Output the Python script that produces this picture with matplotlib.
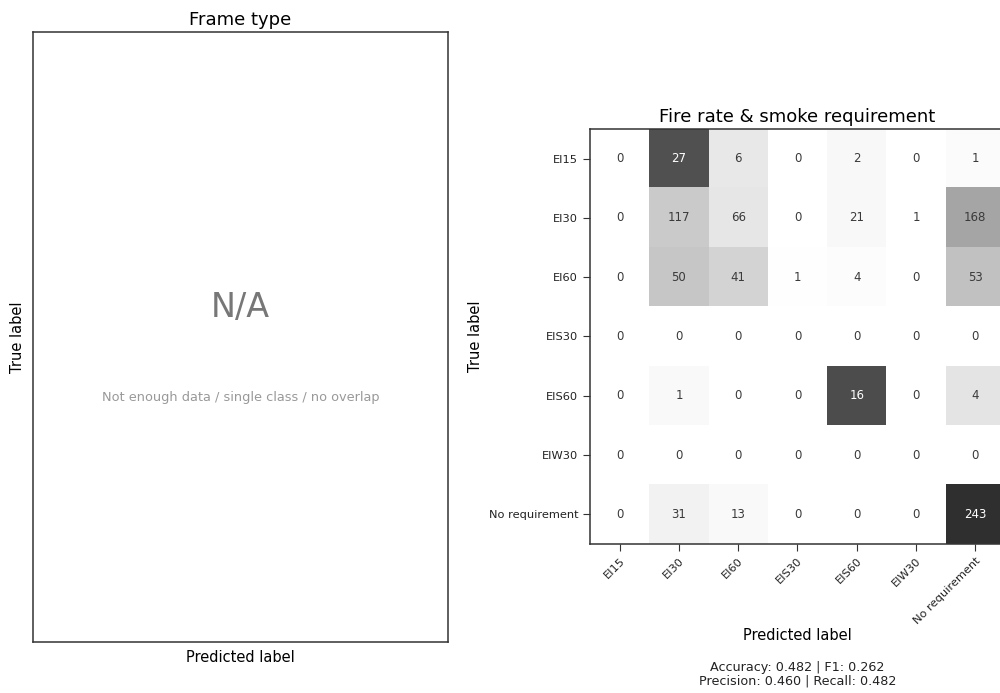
import numpy as np
import matplotlib
matplotlib.use("Agg")
import matplotlib.pyplot as plt

# class names for the fire-rate model
fire_classes = ['EI15', 'EI30', 'EI60', 'EIS30', 'EIS60', 'EIW30', 'No requirement']

# confusion matrix counts (rows = true, cols = predicted)
cm_fire = np.array([
    [0, 27, 6, 0, 2, 0, 1],
    [0, 117, 66, 0, 21, 1, 168],
    [0, 50, 41, 1, 4, 0, 53],
    [0, 0, 0, 0, 0, 0, 0],
    [0, 1, 0, 0, 16, 0, 4],
    [0, 0, 0, 0, 0, 0, 0],
    [0, 31, 13, 0, 0, 0, 243],
])

accuracy = 0.482
f1 = 0.262
precision = 0.460
recall = 0.482

fig = plt.figure(figsize=(10, 6.93), dpi=100)

# Frame type: nothing to show
ax1 = fig.add_axes([0.033, 0.074, 0.415, 0.880])
ax1.set_xticks([])
ax1.set_yticks([])
for s in ax1.spines.values():
    s.set_color('#333333')
    s.set_linewidth(1.1)
ax1.set_title('Frame type', fontsize=13, pad=5)
ax1.set_xlabel('Predicted label', fontsize=10.5, labelpad=6)
ax1.set_ylabel('True label', fontsize=10.5, labelpad=6)
ax1.text(0.5, 0.548, 'N/A', transform=ax1.transAxes, ha='center', va='center',
         fontsize=24, color='#777777')
ax1.text(0.5, 0.40, 'Not enough data / single class / no overlap', transform=ax1.transAxes,
         ha='center', va='center', fontsize=9.3, color='#999999')

# Fire rate & smoke requirement, coloured by row share
row_sums = cm_fire.sum(axis=1, keepdims=True)
cm_norm = np.divide(cm_fire, row_sums, out=np.zeros(cm_fire.shape, dtype=float), where=row_sums > 0)

ax2 = fig.add_axes([0.590, 0.215, 0.415, 0.599])
ax2.imshow(cm_norm, cmap='Greys', vmin=0, vmax=1, aspect='auto', interpolation='nearest')
n = len(fire_classes)
for i in range(n):
    for j in range(n):
        c = 'white' if cm_norm[i, j] > 0.5 else '#3a3a3a'
        ax2.text(j, i, str(cm_fire[i, j]), ha='center', va='center', fontsize=8.5, color=c)
ax2.set_xticks(range(n))
ax2.set_yticks(range(n))
ax2.set_xticklabels(fire_classes, rotation=45, ha='right', rotation_mode='anchor', fontsize=8.2)
ax2.set_yticklabels(fire_classes, fontsize=8.2)
ax2.tick_params(length=5, color='#333333', labelcolor='#222222')
for s in ax2.spines.values():
    s.set_color('#333333')
    s.set_linewidth(1.1)
ax2.set_title('Fire rate & smoke requirement', fontsize=13, pad=5)
ax2.set_xlabel('Predicted label', fontsize=10.5, labelpad=1)
ax2.set_ylabel('True label', fontsize=10.5, labelpad=4)

ax2.text(0.5, -0.283, f'Accuracy: {accuracy:.3f} | F1: {f1:.3f}\nPrecision: {precision:.3f} | Recall: {recall:.3f}',
         transform=ax2.transAxes, ha='center', va='top', fontsize=9.2, color='#222222',
         linespacing=1.0)

fig.savefig('out.png', dpi=100)
